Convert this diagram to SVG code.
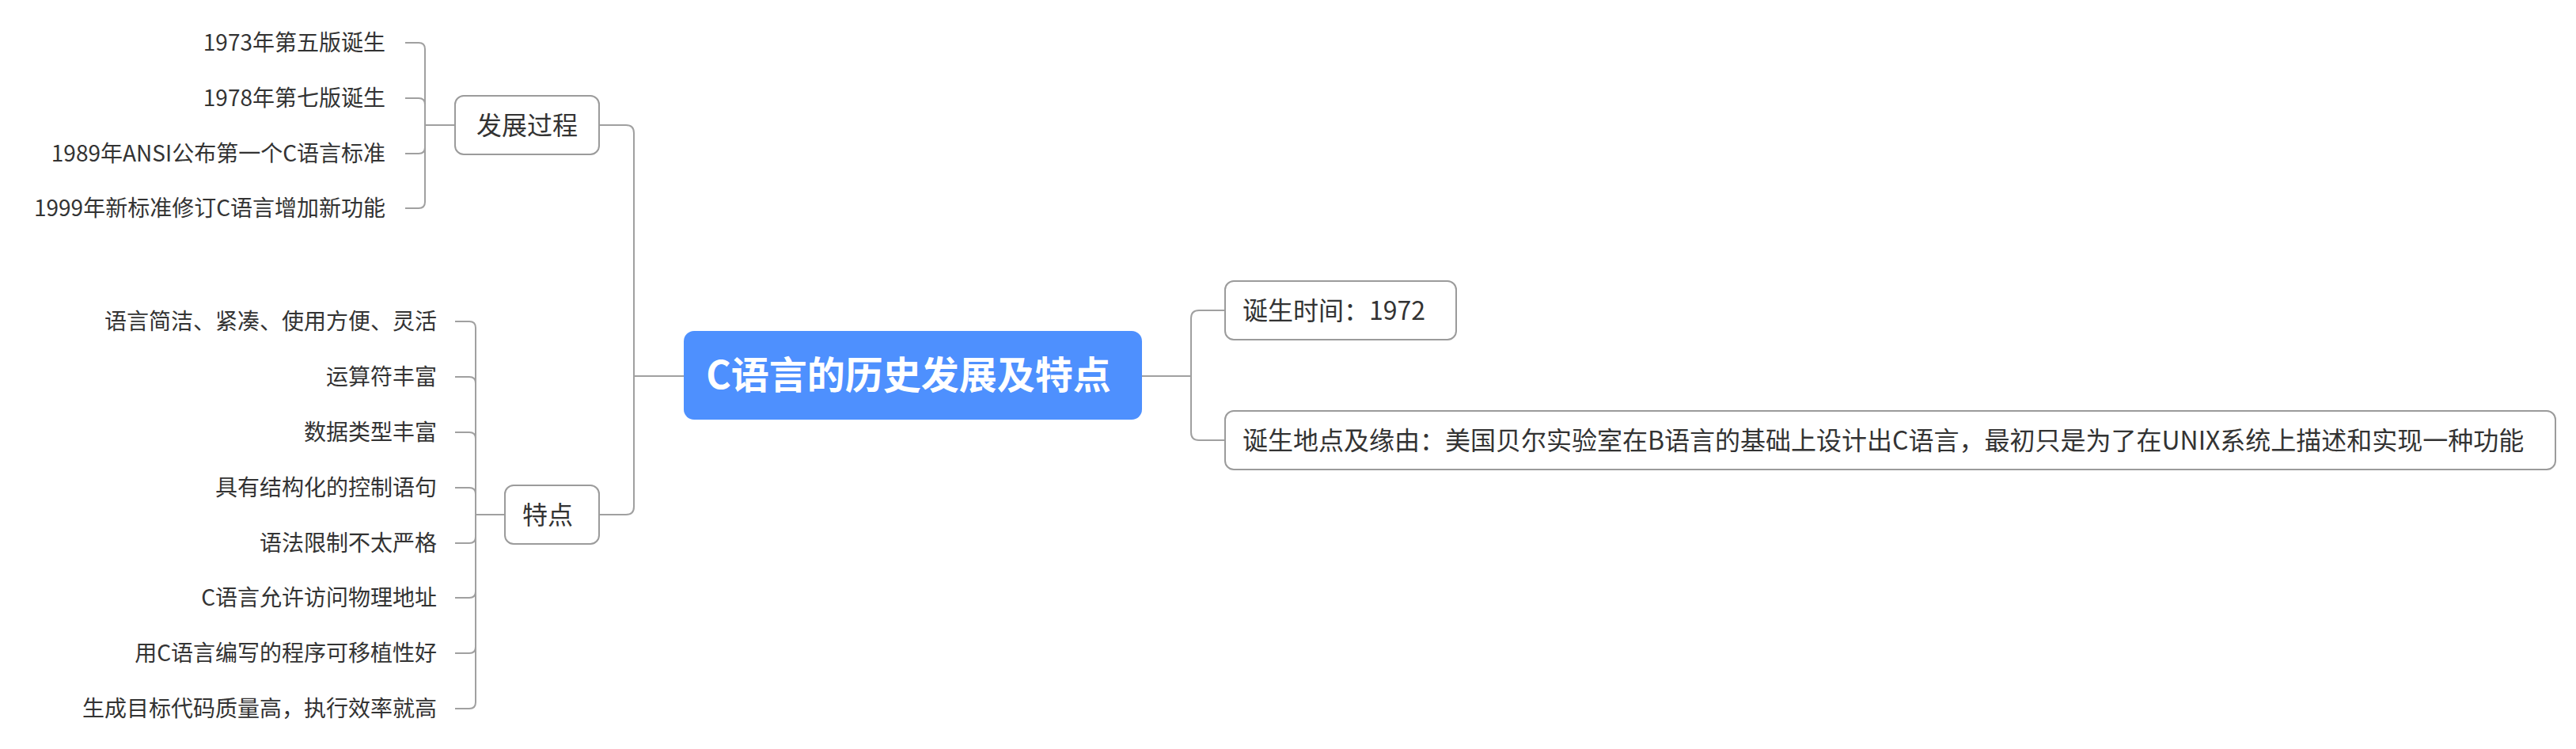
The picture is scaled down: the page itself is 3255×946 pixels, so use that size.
<svg xmlns="http://www.w3.org/2000/svg" width="3255" height="946" viewBox="0 0 3255 946">
<style>
.ln{fill:none;stroke:#a0a0a0;stroke-width:2}
.box{fill:#ffffff;stroke:#9b9b9b;stroke-width:2}
.t{font-family:"Microsoft YaHei","Noto Sans CJK SC",sans-serif;fill:#333333}
.leaf{font-size:28px;text-anchor:end}
.sub{font-size:32px}
.root{font-family:"Microsoft YaHei","Noto Sans CJK SC",sans-serif;font-size:48px;font-weight:bold;fill:#ffffff;text-anchor:middle}
</style>
<rect width="3255" height="946" fill="#ffffff"/>
<g id="connectors">
<path class="ln" d="M512,54 H529 Q537,54 537,62 V158"/>
<path class="ln" d="M512,124 H529 Q537,124 537,132 V158"/>
<path class="ln" d="M512,194 H529 Q537,194 537,186 V158"/>
<path class="ln" d="M512,263 H529 Q537,263 537,255 V158"/>
<path class="ln" d="M537,158 H575"/>
<path class="ln" d="M575,406 H593 Q601,406 601,414 V650"/>
<path class="ln" d="M575,476 H593 Q601,476 601,484 V650"/>
<path class="ln" d="M575,546 H593 Q601,546 601,554 V650"/>
<path class="ln" d="M575,616 H593 Q601,616 601,624 V650"/>
<path class="ln" d="M575,686 H593 Q601,686 601,678 V650"/>
<path class="ln" d="M575,755 H593 Q601,755 601,747 V650"/>
<path class="ln" d="M575,825 H593 Q601,825 601,817 V650"/>
<path class="ln" d="M575,895 H593 Q601,895 601,887 V650"/>
<path class="ln" d="M601,650 H638"/>
<path class="ln" d="M757,158 H791 Q801,158 801,168 V475"/>
<path class="ln" d="M757,650 H791 Q801,650 801,640 V475"/>
<path class="ln" d="M801,475 H864"/>
<path class="ln" d="M1443,475 H1505"/>
<path class="ln" d="M1505,475 V402 Q1505,392 1515,392 H1548"/>
<path class="ln" d="M1505,475 V546 Q1505,556 1515,556 H1548"/>
</g>
<g id="root">
<rect x="864" y="418" width="579" height="112" rx="13" fill="#4e90fe"/>
<text class="root" x="1148" y="491">C语言的历史发展及特点</text>
</g>
<g id="dev">
<rect class="box" x="575" y="121" width="182" height="74" rx="11"/>
<text class="t sub" x="666" y="170" text-anchor="middle">发展过程</text>
</g>
<g id="dev1"><text class="t leaf" x="487" y="64">1973年第五版诞生</text></g>
<g id="dev2"><text class="t leaf" x="487" y="134">1978年第七版诞生</text></g>
<g id="dev3"><text class="t leaf" x="487" y="204">1989年ANSI公布第一个C语言标准</text></g>
<g id="dev4"><text class="t leaf" x="487" y="273">1999年新标准修订C语言增加新功能</text></g>
<g id="feat">
<rect class="box" x="638" y="613" width="119" height="74" rx="11"/>
<text class="t sub" x="692" y="662" text-anchor="middle">特点</text>
</g>
<g id="feat1"><text class="t leaf" x="552" y="416">语言简洁、紧凑、使用方便、灵活</text></g>
<g id="feat2"><text class="t leaf" x="552" y="486">运算符丰富</text></g>
<g id="feat3"><text class="t leaf" x="552" y="556">数据类型丰富</text></g>
<g id="feat4"><text class="t leaf" x="552" y="626">具有结构化的控制语句</text></g>
<g id="feat5"><text class="t leaf" x="552" y="696">语法限制不太严格</text></g>
<g id="feat6"><text class="t leaf" x="552" y="765">C语言允许访问物理地址</text></g>
<g id="feat7"><text class="t leaf" x="552" y="835">用C语言编写的程序可移植性好</text></g>
<g id="feat8"><text class="t leaf" x="552" y="905">生成目标代码质量高，执行效率就高</text></g>
<g id="birth-time">
<rect class="box" x="1548" y="355" width="292" height="74" rx="11"/>
<text class="t sub" x="1570" y="404">诞生时间：1972</text>
</g>
<g id="birth-place">
<rect class="box" x="1548" y="519" width="1681" height="74" rx="11"/>
<text class="t sub" x="1570" y="568">诞生地点及缘由：美国贝尔实验室在B语言的基础上设计出C语言，最初只是为了在UNIX系统上描述和实现一种功能</text>
</g>
</svg>
